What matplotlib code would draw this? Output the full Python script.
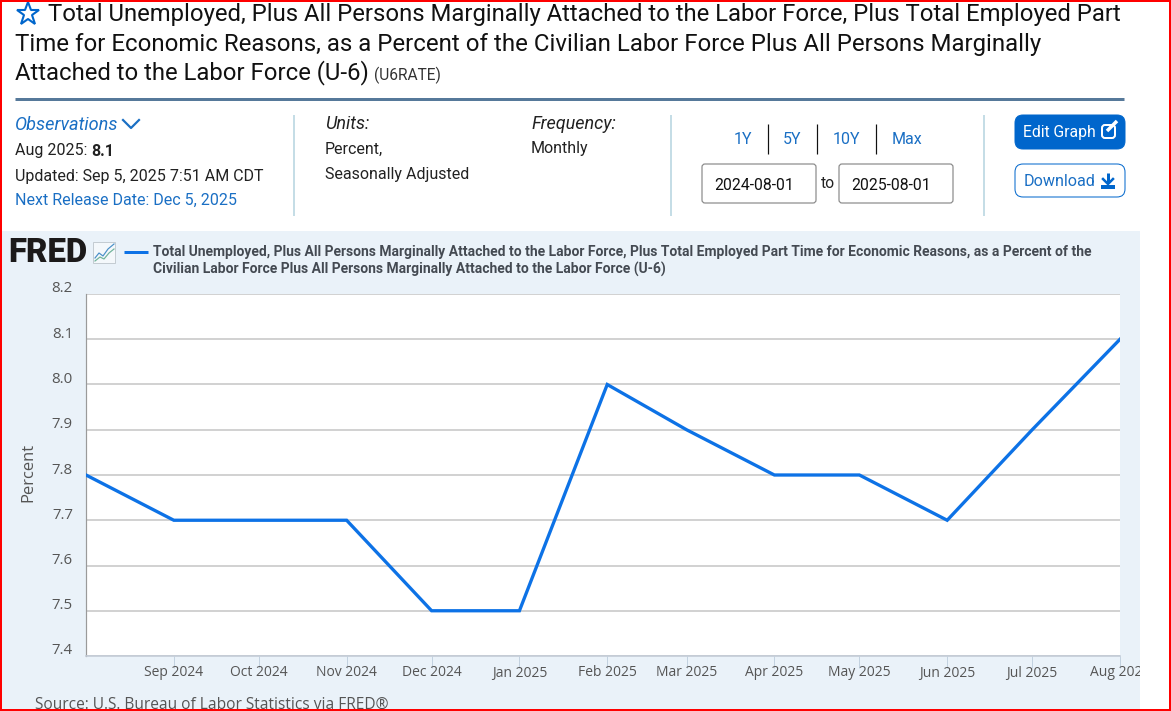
import numpy as np
import matplotlib
matplotlib.use("Agg")
import matplotlib.pyplot as plt
import matplotlib.dates as mdates
from matplotlib.patches import Rectangle, FancyBboxPatch
from matplotlib.transforms import ScaledTranslation
from datetime import date

months = [date(2024, 8, 1), date(2024, 9, 1), date(2024, 10, 1), date(2024, 11, 1),
          date(2024, 12, 1), date(2025, 1, 1), date(2025, 2, 1), date(2025, 3, 1),
          date(2025, 4, 1), date(2025, 5, 1), date(2025, 6, 1), date(2025, 7, 1),
          date(2025, 8, 1)]
u6_rate = [7.8, 7.7, 7.7, 7.7, 7.5, 7.5, 8.0, 7.9, 7.8, 7.8, 7.7, 7.9, 8.1]
y_ticks = [7.4, 7.5, 7.6, 7.7, 7.8, 7.9, 8.0, 8.1, 8.2]

title_lines = ["Total Unemployed, Plus All Persons Marginally Attached to the Labor Force, Plus Total Employed Part",
               "Time for Economic Reasons, as a Percent of the Civilian Labor Force Plus All Persons Marginally",
               "Attached to the Labor Force (U-6)"]
legend_lines = ["Total Unemployed, Plus All Persons Marginally Attached to the Labor Force, Plus Total Employed Part Time for Economic Reasons, as a Percent of the",
                "Civilian Labor Force Plus All Persons Marginally Attached to the Labor Force (U-6)"]

W, H = 1171, 711
LINK = "#1a6fc4"
BLUE = "#0066cc"
DARK = "#222222"
PANEL = "#eaf2f9"
SEP = "#c5dde6"
GREY = "#555555"
LINE = "#0d72e6"

plt.rcParams['font.family'] = ['Roboto', 'DejaVu Sans']


def px(n):
    # pixels to points at dpi 100
    return n * 0.72


fig = plt.figure(figsize=(W / 100, H / 100), dpi=100, facecolor="white")

# page layer in pixel coordinates
page = fig.add_axes([0, 0, 1, 1], zorder=0)
page.set_xlim(0, W)
page.set_ylim(H, 0)
page.axis("off")

panel = Rectangle((2, 231), 1138, 480, fc=PANEL, ec="none")
page.add_patch(panel)

# header
page.plot([27.5], [14], marker="*", ms=17, mfc="white", mec=BLUE, mew=1.5, ls="none")
page.text(48, 15, title_lines[0], fontsize=px(23.93), color="#111111", va="center")
page.text(15, 44, title_lines[1], fontsize=px(23.98), color="#111111", va="center")
page.text(15, 73, title_lines[2], fontsize=px(23.93), color="#111111", va="center")
page.text(374, 75, "(U6RATE)", fontsize=px(15.5), color="#333333", va="center")
page.plot([15, 1124], [99, 99], color="#56799a", lw=px(3), solid_capstyle="butt")

# observations block
page.text(15, 125, "Observations", fontsize=px(18.1), color=LINK, style="italic", va="center")
page.plot([123, 131, 139], [120, 128, 120], color=LINK, lw=px(2.2))
page.text(15, 151, "Aug 2025: ", fontsize=px(16.05), color=DARK, va="center")
page.text(91, 151, "8.1", fontsize=px(16.05), color=DARK, weight="bold", va="center")
page.text(15, 176, "Updated: Sep 5, 2025 7:51 AM CDT", fontsize=px(16.05), color=DARK, va="center")
page.text(15, 200, "Next Release Date: Dec 5, 2025", fontsize=px(16.05), color=LINK, va="center")

for x in [294, 671, 984]:
    page.plot([x, x], [115, 216], color=SEP, lw=px(2), solid_capstyle="butt")

page.text(325, 124, "Units:", fontsize=px(18.0), color=DARK, style="italic", va="center")
page.text(325, 149, "Percent,", fontsize=px(16.05), color=DARK, va="center")
page.text(325, 175, "Seasonally Adjusted", fontsize=px(16.05), color=DARK, va="center")
page.text(531, 124, "Frequency:", fontsize=px(18.0), color=DARK, style="italic", va="center")
page.text(531, 149, "Monthly", fontsize=px(16.05), color=DARK, va="center")

# range links
for x, s in zip([743, 792, 846, 907], ["1Y", "5Y", "10Y", "Max"]):
    page.text(x, 139.5, s, fontsize=px(16), color=LINK, ha="center", va="center")
for x in [767.5, 816.5, 875.5]:
    page.plot([x, x], [124, 154], color="#111111", lw=px(1.2), solid_capstyle="butt")

# date boxes
for x, s in zip([702, 839], ["2024-08-01", "2025-08-01"]):
    page.add_patch(FancyBboxPatch((x, 164), 114, 39, boxstyle="round,pad=0,rounding_size=3",
                                  fc="white", ec="#8a8a8a", lw=px(1.2)))
    page.text(x + 12, 185, s, fontsize=px(15.8), color="#111111", va="center")
page.text(828, 184, "to", fontsize=px(15.8), color=DARK, ha="center", va="center")

# buttons
page.add_patch(FancyBboxPatch((1015, 115), 110, 34, boxstyle="round,pad=0,rounding_size=8",
                              fc=BLUE, ec=BLUE, lw=px(1)))
page.text(1023, 132, "Edit Graph", fontsize=px(15.8), color="white", va="center")
page.add_patch(FancyBboxPatch((1102, 125), 13, 13, boxstyle="round,pad=0,rounding_size=3",
                              fc="none", ec="white", lw=px(2)))
page.plot([1107, 1117], [131, 121], color="white", lw=px(3.5), solid_capstyle="butt")
page.add_patch(FancyBboxPatch((1015, 164), 110, 33, boxstyle="round,pad=0,rounding_size=8",
                              fc="white", ec=BLUE, lw=px(1)))
page.text(1024, 181, "Download", fontsize=px(16.1), color=LINK, va="center")
page.plot([1108, 1108], [173, 183], color=BLUE, lw=px(3), solid_capstyle="butt")
page.plot([1103, 1108, 1113], [179, 184, 179], color=BLUE, lw=px(2.5))
page.add_patch(Rectangle((1101, 185), 14, 4, fc=BLUE, ec="none"))

# FRED mark
page.text(8, 253, "FRED", fontsize=px(33), weight="black", color="#1c1a1a", va="center")
page.add_patch(Rectangle((93, 242), 22, 21, fc="#f4f8fb", ec="#c4ccd2", lw=px(1)))
page.plot([95, 99, 103, 108, 114], [258, 253, 256, 249, 244], color="#4a90c8", lw=px(1.2))
page.plot([95, 100, 104, 109, 114], [261, 257, 259, 253, 249], color="#6fb39a", lw=px(1.2))

# legend
page.plot([124, 148], [252, 252], color=LINE, lw=px(3), solid_capstyle="butt")
page.text(153, 252, legend_lines[0], fontsize=px(13.93), weight="bold", color="#444a52", va="center")
page.text(153, 269, legend_lines[1], fontsize=px(13.93), weight="bold", color="#444a52", va="center")

# chart
x0, x1, y_top, y_bot = 86, 1120, 294, 656
ax = fig.add_axes([x0 / W, 1 - y_bot / H, (x1 - x0) / W, (y_bot - y_top) / H], zorder=1)
ax.set_facecolor("white")
ax.plot(months, u6_rate, color=LINE, lw=px(3.3), solid_joinstyle="miter", zorder=3)
ax.set_xlim(months[0], months[-1])
ax.set_ylim(7.4, 8.2)
ax.set_yticks(y_ticks)
ax.set_yticklabels(["%.1f" % v for v in y_ticks])
ax.set_xticks(months[1:])
ax.xaxis.set_major_formatter(mdates.DateFormatter("%b %Y"))
ax.grid(axis="y", color="#c8c8c8", lw=px(1.6), zorder=1)
ax.set_axisbelow(True)
for side in ["top", "right"]:
    ax.spines[side].set_visible(False)
ax.spines["left"].set_color("#9a9a9a")
ax.spines["left"].set_linewidth(px(1.2))
ax.spines["bottom"].set_color("#c3cbd6")
ax.spines["bottom"].set_linewidth(px(1.6))
ax.tick_params(axis="y", length=0, pad=px(13), labelsize=px(15), labelcolor=GREY)
ax.tick_params(axis="x", length=px(12), width=px(1), color="#c3d2e0", pad=px(-2.5),
               labelsize=px(13.9), labelcolor=GREY)
up = ScaledTranslation(0, 7 / 100, fig.dpi_scale_trans)
for lab in ax.get_yticklabels():
    lab.set_family("Open Sans")
    lab.set_transform(lab.get_transform() + up)
for lab in ax.get_xticklabels():
    lab.set_family("Open Sans")
    lab.set_clip_on(True)
    lab.set_clip_path(Rectangle((0, 0), 1140, H, transform=None))

fig.text(28 / W, 1 - 472 / H, "Percent", rotation=90, family="Open Sans", fontsize=px(16.5),
         color=GREY, ha="center", va="center")
page.text(35, 705, "Source: U.S. Bureau of Labor Statistics via FRED\u00ae", family="Open Sans",
          fontsize=px(15.5), color=GREY, va="center", clip_on=True)

# red screenshot frame on top
frame = fig.add_axes([0, 0, 1, 1], zorder=5)
frame.set_xlim(0, W)
frame.set_ylim(H, 0)
frame.axis("off")
frame.add_patch(Rectangle((1, 1), W - 2, H - 2, fc="none", ec="#ff0000", lw=px(2)))

fig.savefig("out.png", dpi=100)
